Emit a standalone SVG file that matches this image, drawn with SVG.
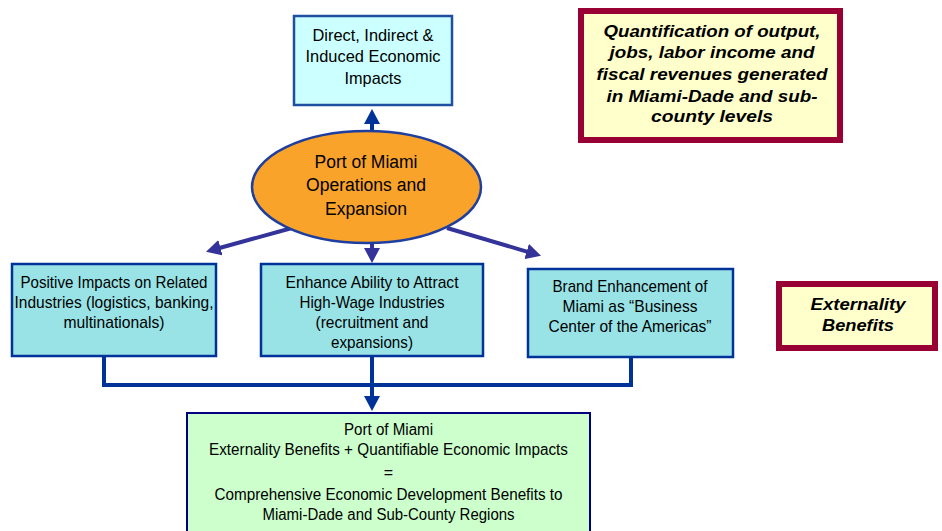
<svg xmlns="http://www.w3.org/2000/svg" width="942" height="531" viewBox="0 0 942 531">
<style>
.t{font-family:"Liberation Sans",Arial,sans-serif;font-size:17px;fill:#000;text-anchor:middle}
.b{font-family:"Liberation Sans",Arial,sans-serif;font-size:17px;font-weight:bold;font-style:italic;fill:#000;text-anchor:middle}
.teal{fill:#99E3E6;stroke:#003399;stroke-width:2.5}
.note{fill:#FFFFCC;stroke:#990033;stroke-width:6}
.c1{fill:none;stroke:#333399;stroke-width:4}
.c2{fill:none;stroke:#003399;stroke-width:4}
</style>
<defs>
<marker id="ah1" viewBox="0 0 15 16" refX="1" refY="8" markerWidth="15" markerHeight="16" markerUnits="userSpaceOnUse" orient="auto">
<path d="M0,0 L15,8 L0,16 z" fill="#333399"/>
</marker>
<marker id="ah2" viewBox="0 0 15 16" refX="1" refY="8" markerWidth="15" markerHeight="16" markerUnits="userSpaceOnUse" orient="auto">
<path d="M0,0 L15,8 L0,16 z" fill="#003399"/>
</marker>
</defs>
<rect width="942" height="531" fill="#fff"/>
<g id="connectors">
<line class="c2" x1="372" y1="135" x2="372" y2="123" marker-end="url(#ah2)"/>
<line class="c1" x1="292" y1="228" x2="219.5" y2="248" marker-end="url(#ah1)"/>
<line class="c1" x1="372" y1="238" x2="372" y2="249" marker-end="url(#ah1)"/>
<line class="c1" x1="447" y1="228" x2="527.6" y2="251.8" marker-end="url(#ah1)"/>
<polyline class="c2" points="104,356 104,385 631,385 631,357"/>
<line class="c2" x1="372" y1="356" x2="372" y2="397" marker-end="url(#ah2)"/>
</g>
<g id="direct-impacts">
<rect x="294" y="16" width="158" height="89" fill="#CCFFFF" stroke="#1F4FA0" stroke-width="2.5"/>
<text class="t" x="373" y="41" textLength="121" lengthAdjust="spacingAndGlyphs">Direct, Indirect &amp;</text>
<text class="t" x="373" y="62" textLength="135" lengthAdjust="spacingAndGlyphs">Induced Economic</text>
<text class="t" x="373" y="84" textLength="57" lengthAdjust="spacingAndGlyphs">Impacts</text>
</g>
<g id="port-operations">
<ellipse cx="366.5" cy="187" rx="114.5" ry="56" fill="#F9A32A" stroke="#1F3F9F" stroke-width="2.5"/>
<text class="t" x="366" y="168" font-size="18" style="font-size:18px" textLength="103" lengthAdjust="spacingAndGlyphs">Port of Miami</text>
<text class="t" x="366" y="191" style="font-size:18px" textLength="120" lengthAdjust="spacingAndGlyphs">Operations and</text>
<text class="t" x="366" y="215" style="font-size:18px" textLength="82" lengthAdjust="spacingAndGlyphs">Expansion</text>
</g>
<g id="positive-impacts">
<rect class="teal" x="12" y="264" width="204" height="92"/>
<text class="t" x="114" y="288" textLength="187" lengthAdjust="spacingAndGlyphs">Positive Impacts on Related</text>
<text class="t" x="114" y="308" textLength="199" lengthAdjust="spacingAndGlyphs">Industries (logistics, banking,</text>
<text class="t" x="114" y="328" textLength="101" lengthAdjust="spacingAndGlyphs">multinationals)</text>
</g>
<g id="high-wage">
<rect class="teal" x="261" y="264" width="222" height="92"/>
<text class="t" x="372" y="288" textLength="173" lengthAdjust="spacingAndGlyphs">Enhance Ability to Attract</text>
<text class="t" x="372" y="308" textLength="145" lengthAdjust="spacingAndGlyphs">High-Wage Industries</text>
<text class="t" x="372" y="328" textLength="113" lengthAdjust="spacingAndGlyphs">(recruitment and</text>
<text class="t" x="372" y="348" textLength="82" lengthAdjust="spacingAndGlyphs">expansions)</text>
</g>
<g id="brand">
<rect class="teal" x="528" y="269" width="205" height="88"/>
<text class="t" x="630" y="292" textLength="155" lengthAdjust="spacingAndGlyphs">Brand Enhancement of</text>
<text class="t" x="630" y="312" textLength="135" lengthAdjust="spacingAndGlyphs">Miami as “Business</text>
<text class="t" x="630" y="332" textLength="163" lengthAdjust="spacingAndGlyphs">Center of the Americas”</text>
</g>
<g id="quantification">
<rect class="note" x="581" y="11" width="259" height="129"/>
<text class="b" x="712" y="37" textLength="217" lengthAdjust="spacingAndGlyphs">Quantification of output,</text>
<text class="b" x="712" y="58" textLength="205" lengthAdjust="spacingAndGlyphs">jobs, labor income and</text>
<text class="b" x="712" y="80" textLength="231" lengthAdjust="spacingAndGlyphs">fiscal revenues generated</text>
<text class="b" x="712" y="102" textLength="211" lengthAdjust="spacingAndGlyphs">in Miami-Dade and sub-</text>
<text class="b" x="712" y="122" textLength="122" lengthAdjust="spacingAndGlyphs">county levels</text>
</g>
<g id="externality">
<rect class="note" x="779" y="284" width="156" height="64"/>
<text class="b" x="858" y="310" textLength="95" lengthAdjust="spacingAndGlyphs">Externality</text>
<text class="b" x="858" y="331" textLength="72" lengthAdjust="spacingAndGlyphs">Benefits</text>
</g>
<g id="comprehensive">
<rect x="187" y="413" width="403" height="130" fill="#CCFFCC" stroke="#000080" stroke-width="2"/>
<text class="t" x="388.5" y="435" style="font-size:16px" textLength="89" lengthAdjust="spacingAndGlyphs">Port of Miami</text>
<text class="t" x="388.5" y="455" style="font-size:16px" textLength="359" lengthAdjust="spacingAndGlyphs">Externality Benefits + Quantifiable Economic Impacts</text>
<text class="t" x="388.5" y="478" style="font-size:16px">=</text>
<text class="t" x="388.5" y="500" style="font-size:16px" textLength="348" lengthAdjust="spacingAndGlyphs">Comprehensive Economic Development Benefits to</text>
<text class="t" x="388.5" y="520" style="font-size:16px" textLength="252" lengthAdjust="spacingAndGlyphs">Miami-Dade and Sub-County Regions</text>
</g>
</svg>
